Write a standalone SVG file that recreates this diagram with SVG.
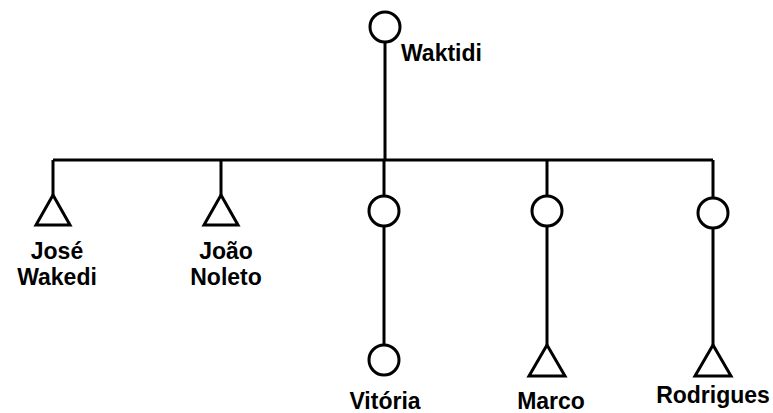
<svg xmlns="http://www.w3.org/2000/svg" width="773" height="413" viewBox="0 0 773 413">
<style>
.ln{stroke:#000;stroke-width:3;fill:none}
.sh{stroke:#000;stroke-width:3;fill:#fff}
.t{font-family:"Liberation Sans",Arial,sans-serif;font-weight:bold;font-size:23px;fill:#000}
.m{text-anchor:middle}
</style>
<rect width="773" height="413" fill="#fff"/>
<g id="connectors">
<path class="ln" d="M385 42V160M53 160H713M53 160V195M221 160V195M384 160V196M547 160V196M713 160V198"/>
<path class="ln" d="M384 226V345M547 226V345M713 228V345"/>
</g>
<g id="waktidi"><circle class="sh" cx="385" cy="27" r="15"/><text class="t" x="401" y="61">Waktidi</text></g>
<g id="jose"><path class="sh" d="M53 195L70 225H36Z"/><text class="t m" x="57" y="259">José</text><text class="t m" x="57" y="285">Wakedi</text></g>
<g id="joao"><path class="sh" d="M221 195L238 225H204Z"/><text class="t m" x="226" y="259">João</text><text class="t m" x="226" y="285">Noleto</text></g>
<g id="vitoria-parent"><circle class="sh" cx="384" cy="211" r="15"/></g>
<g id="marco-parent"><circle class="sh" cx="547" cy="211" r="15"/></g>
<g id="rodrigues-parent"><circle class="sh" cx="713" cy="213" r="15"/></g>
<g id="vitoria"><circle class="sh" cx="384" cy="360" r="15"/><text class="t m" x="385" y="409">Vitória</text></g>
<g id="marco"><path class="sh" d="M547 345L565 376H529Z"/><text class="t m" x="551" y="409">Marco</text></g>
<g id="rodrigues"><path class="sh" d="M713 345L731 376H695Z"/><text class="t m" x="713" y="403">Rodrigues</text></g>
</svg>
